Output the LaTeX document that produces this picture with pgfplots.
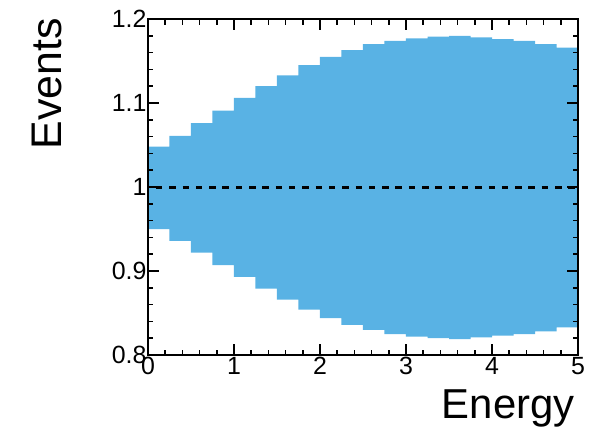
\documentclass[border=0pt]{standalone}
\usepackage{fontspec}
\setmainfont{Liberation Sans}
\usepackage{pgfplots}
\pgfplotsset{compat=1.18}
\definecolor{band}{RGB}{89,178,228}
\begin{document}
\begin{tikzpicture}
\path[use as bounding box] (-148bp,-75bp) rectangle (456bp,355bp);
\begin{axis}[
  at={(0,0)}, anchor=south west,
  scale only axis, width=430bp, height=336bp,
  xmin=0, xmax=5, ymin=0.8, ymax=1.2,
  xtick={0,1,2,3,4,5},
  ytick={0.8,0.9,1,1.1,1.2},
  yticklabels={0.8,0.9,1,1.1,1.2},
  minor x tick num=4, minor y tick num=4,
  tick align=inside, xtick pos=both, ytick pos=both,
  major tick length=11bp, minor tick length=5.5bp,
  axis line style={line width=2bp},
  every tick/.style={line width=1.6bp, black},
  tick label style={font=\fontsize{25}{25}\selectfont},
  /pgf/number format/assume math mode=true,
  xticklabel style={yshift=1bp},
  yticklabel style={xshift=2bp},
  axis on top,
  xlabel={Energy}, ylabel={Events},
  every axis x label/.style={at={(rel axis cs:1,-0.1875)}, anchor=base east, font=\fontsize{42}{42}\selectfont},
  every axis y label/.style={at={(rel axis cs:-0.2023,1.0119)}, anchor=base east, rotate=90, font=\fontsize{43}{43}\selectfont},
]
% band: upper edge left to right, lower edge right to left
\addplot[fill=band, draw=none] coordinates {
(0.00,1.048) (0.25,1.048) (0.25,1.061) (0.50,1.061) (0.50,1.076) (0.75,1.076)
(0.75,1.091) (1.00,1.091) (1.00,1.106) (1.25,1.106) (1.25,1.120) (1.50,1.120)
(1.50,1.133) (1.75,1.133) (1.75,1.145) (2.00,1.145) (2.00,1.155) (2.25,1.155)
(2.25,1.163) (2.50,1.163) (2.50,1.170) (2.75,1.170) (2.75,1.174) (3.00,1.174)
(3.00,1.177) (3.25,1.177) (3.25,1.179) (3.50,1.179) (3.50,1.180) (3.75,1.180)
(3.75,1.178) (4.00,1.178) (4.00,1.176) (4.25,1.176) (4.25,1.174) (4.50,1.174)
(4.50,1.170) (4.75,1.170) (4.75,1.166) (5.00,1.166)
(5.00,0.833) (4.75,0.833) (4.75,0.828) (4.50,0.828) (4.50,0.825) (4.25,0.825)
(4.25,0.823) (4.00,0.823) (4.00,0.821) (3.75,0.821) (3.75,0.819) (3.50,0.819)
(3.50,0.820) (3.25,0.820) (3.25,0.822) (3.00,0.822) (3.00,0.825) (2.75,0.825)
(2.75,0.830) (2.50,0.830) (2.50,0.836) (2.25,0.836) (2.25,0.844) (2.00,0.844)
(2.00,0.854) (1.75,0.854) (1.75,0.866) (1.50,0.866) (1.50,0.879) (1.25,0.879)
(1.25,0.893) (1.00,0.893) (1.00,0.907) (0.75,0.907) (0.75,0.922) (0.50,0.922)
(0.50,0.936) (0.25,0.936) (0.25,0.950) (0.00,0.950)
} \closedcycle;
\addplot[black, line width=3bp, dash pattern=on 6.5bp off 6.8bp, dash phase=-8bp] coordinates {(0,1) (5,1)};
\end{axis}
\end{tikzpicture}
\end{document}
